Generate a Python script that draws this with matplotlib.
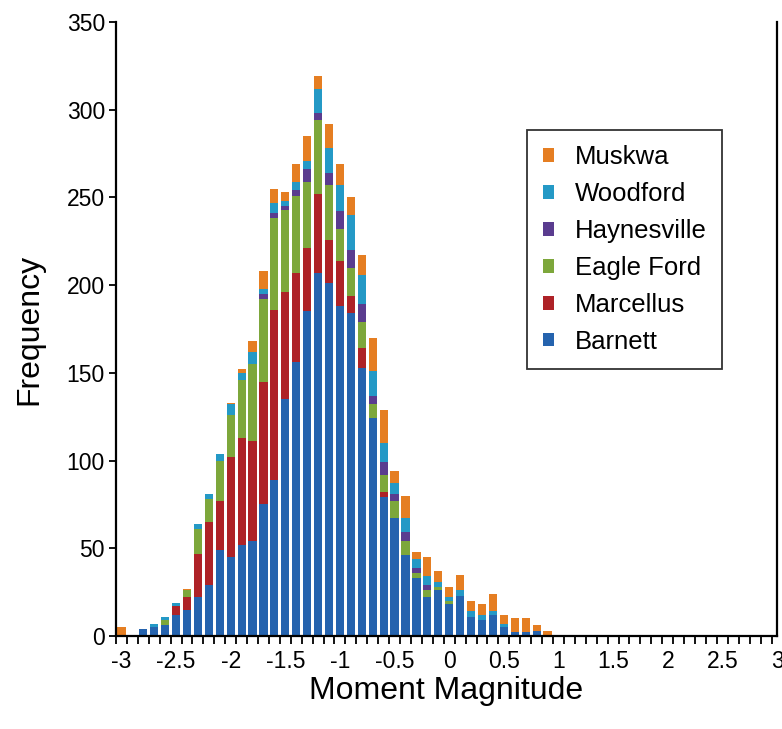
import numpy as np
import matplotlib
matplotlib.use("Agg")
import matplotlib.pyplot as plt

plt.rcParams['font.family'] = ['Liberation Sans', 'DejaVu Sans']
plt.rcParams['axes.unicode_minus'] = False

# bin centres (moment magnitude), 0.1 wide
mags = np.round(np.arange(-3.0, 0.91, 0.1), 1)

barnett = [0, 0, 4, 5, 6, 12, 15, 22, 29, 49,
           45, 52, 54, 75, 89, 135, 156, 185, 207, 201,
           188, 184, 153, 124, 79, 67, 46, 33, 22, 26,
           18, 23, 11, 9, 12, 5, 2, 2, 3, 0]
marcellus = [0, 0, 0, 0, 0, 5, 7, 25, 36, 28,
             57, 61, 57, 70, 97, 61, 51, 36, 45, 25,
             26, 10, 11, 0, 3, 0, 0, 0, 0, 0,
             0, 0, 0, 0, 0, 0, 0, 0, 0, 0]
eagle_ford = [0, 0, 0, 0, 3, 0, 4, 14, 13, 23,
              24, 33, 44, 47, 52, 47, 44, 38, 42, 31,
              18, 16, 15, 8, 10, 10, 8, 3, 4, 2,
              2, 0, 0, 0, 0, 0, 0, 0, 0, 0]
haynesville = [0, 0, 0, 0, 0, 0, 0, 0, 0, 0,
               0, 0, 0, 3, 3, 2, 3, 7, 4, 7,
               10, 10, 10, 5, 7, 4, 5, 3, 3, 0,
               0, 0, 0, 0, 0, 0, 0, 0, 0, 0]
woodford = [0, 0, 0, 2, 2, 2, 0, 3, 3, 4,
            6, 4, 7, 3, 6, 3, 5, 5, 14, 14,
            15, 20, 17, 14, 11, 6, 8, 5, 5, 3,
            2, 3, 3, 3, 2, 2, 0, 0, 0, 0]
muskwa = [5, 0, 0, 0, 0, 0, 1, 0, 0, 0,
          1, 2, 6, 10, 8, 5, 10, 14, 7, 14,
          12, 10, 11, 19, 19, 7, 13, 4, 11, 6,
          6, 9, 6, 6, 10, 5, 8, 8, 3, 3]

names = ['Barnett', 'Marcellus', 'Eagle Ford', 'Haynesville', 'Woodford', 'Muskwa']
series = [barnett, marcellus, eagle_ford, haynesville, woodford, muskwa]
colors = ['#2563AE', '#AE2227', '#7DA73B', '#5A3C8F', '#2499C6', '#E57E22']

xtick_pos = [-3, -2.5, -2, -1.5, -1, -0.5, 0, 0.5, 1, 1.5, 2, 2.5, 3]
xtick_labels = ['-3', '-2.5', '-2', '-1.5', '-1', '-0.5', '0', '0.5', '1',
                '1.5', '2', '2.5', '3']

fig = plt.figure(figsize=(7.82, 7.29), dpi=100)
ax = fig.add_axes([0.1483, 0.1276, 0.8453, 0.8422])

bottom = np.zeros(len(mags))
for name, vals, c in zip(names, series, colors):
    ax.bar(mags, vals, width=0.075, bottom=bottom, color=c, label=name,
           linewidth=0)
    bottom += np.array(vals)

ax.set_xlim(-3.045, 3.0)
ax.set_ylim(0, 350)
ax.set_yticks(range(0, 351, 50))
ax.set_xticks(xtick_pos, xtick_labels)
ax.set_xticks(np.round(np.arange(-3.05, 2.96, 0.1), 2), minor=True)
ax.tick_params(axis='x', which='major', length=0, pad=10, labelsize=16.5)
ax.tick_params(axis='x', which='minor', length=6, width=1.3)
ax.tick_params(axis='y', length=5, width=1.3, labelsize=16.5, pad=3)

ax.spines['top'].set_visible(False)
for s in ['left', 'bottom', 'right']:
    ax.spines[s].set_linewidth(1.6)

ax.set_xlabel('Moment Magnitude', fontsize=23, labelpad=2)
ax.set_ylabel('Frequency', fontsize=23, labelpad=16)

h, l = ax.get_legend_handles_labels()
leg = ax.legend(h[::-1], l[::-1], loc='upper left', bbox_to_anchor=(0.622, 0.824),
                borderaxespad=0, fontsize=18.5, fancybox=False, frameon=True,
                edgecolor='black', handlelength=0.45, handleheight=0.45,
                handletextpad=0.8, labelspacing=0.5, borderpad=0.6)
leg.get_frame().set_linewidth(1.3)

fig.savefig('out.png', dpi=100)
